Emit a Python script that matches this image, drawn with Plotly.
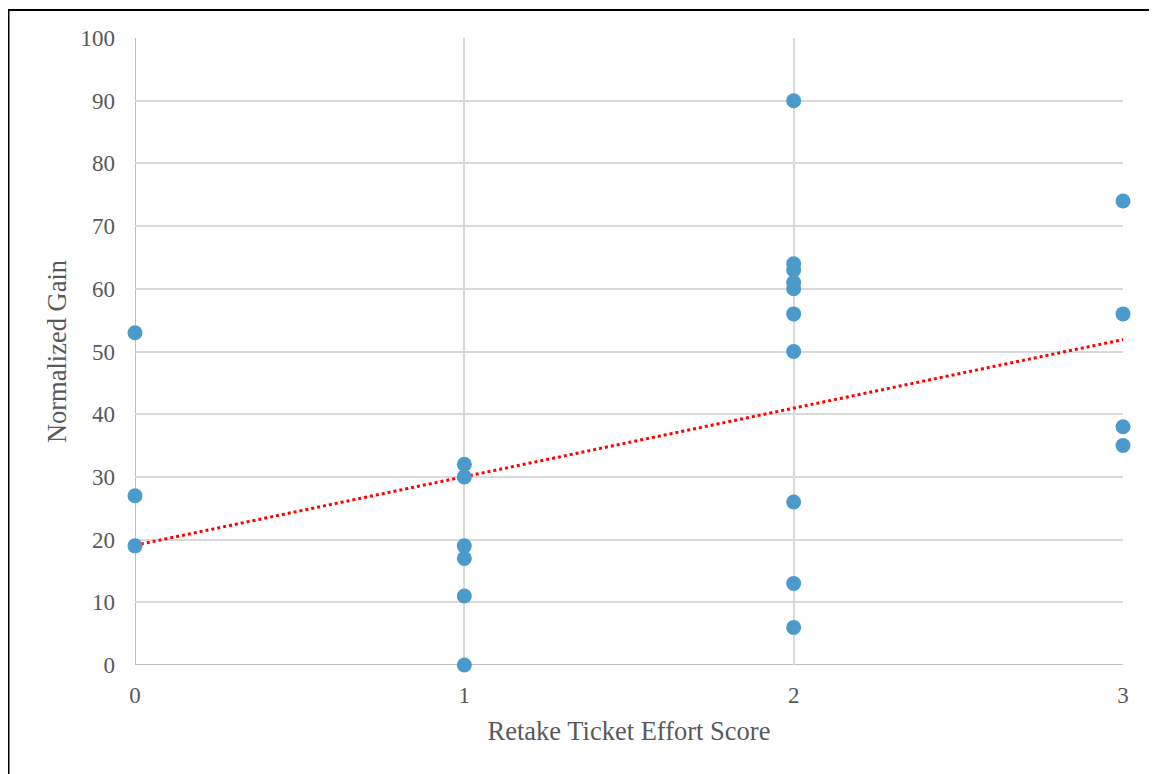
import plotly.graph_objects as go

# Data
effort_score = [0, 0, 0,
                1, 1, 1, 1, 1, 1,
                2, 2, 2, 2, 2, 2, 2, 2, 2, 2,
                3, 3, 3, 3]
normalized_gain = [53, 27, 19,
                   32, 30, 19, 17, 11, 0,
                   90, 64, 63, 61, 60, 56, 50, 26, 13, 6,
                   74, 56, 38, 35]
trend_x = [0, 3]
trend_y = [19.1, 51.9]

x_ticks = [0, 1, 2, 3]
y_ticks = list(range(0, 101, 10))

W, H = 1149, 766
L, R, T, B = 127, 34, 30, 109

fig = go.Figure()
fig.add_trace(go.Scatter(
    x=trend_x, y=trend_y, mode="lines",
    line=dict(color="#ff0000", width=3, dash="dot"),
    showlegend=False, hoverinfo="skip", cliponaxis=False))
fig.add_trace(go.Scatter(
    x=effort_score, y=normalized_gain, mode="markers",
    marker=dict(size=15, color="#4a9bcb"),
    showlegend=False, hoverinfo="x+y", cliponaxis=False))

font_family = "Liberation Serif, Times New Roman, serif"
axis_common = dict(
    showgrid=True, gridcolor="#d9d9d9", gridwidth=2,
    zeroline=False, showline=False,
    tickfont=dict(family=font_family, size=23, color="#595959"),
    ticks="",
    title_font=dict(family=font_family, size=26.5, color="#595959"),
)

fig.update_xaxes(range=[0, 3], tickvals=x_ticks, title_text="Retake Ticket Effort Score",
                 title_standoff=14, ticklabelstandoff=14, **axis_common)
fig.update_yaxes(range=[0, 100], tickvals=y_ticks, title_text="Normalized Gain",
                 title_standoff=6, ticklabelstandoff=19, **axis_common)

# axis lines at x=0 and y=0
fig.add_shape(type="line", xref="x", yref="y", x0=0, x1=0, y0=0, y1=100,
              line=dict(color="#bfbfbf", width=2), layer="below")
fig.add_shape(type="line", xref="x", yref="y", x0=0, x1=3, y0=0, y1=0,
              line=dict(color="#bfbfbf", width=2), layer="below")

pw, ph = W - L - R, H - T - B
# outer black frame
fig.add_shape(type="rect", xref="paper", yref="paper",
              x0=(0.5 - L) / pw, x1=(1170 - L) / pw,
              y0=(H - B - 790) / ph, y1=(H - B - 2) / ph,
              line=dict(color="#000000", width=2), fillcolor="rgba(0,0,0,0)")

fig.update_layout(
    width=W, height=H,
    margin=dict(l=L, r=R, t=T, b=B),
    plot_bgcolor="white", paper_bgcolor="white",
)

fig.write_html("out.html")
